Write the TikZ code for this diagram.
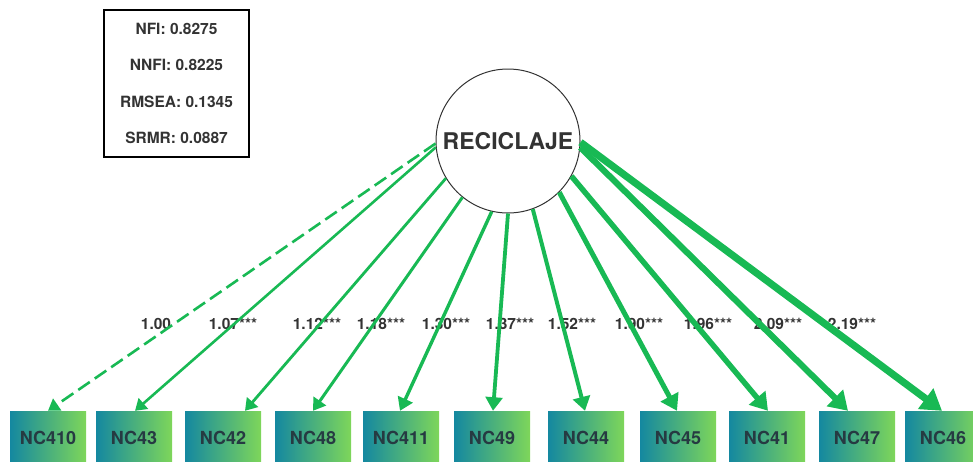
\documentclass[tikz,border=0pt]{standalone}
\usepackage{fontspec}
\setmainfont{TeX Gyre Heros}
\usetikzlibrary{arrows.meta,calc}
\definecolor{pathgreen}{RGB}{24,185,84}
\definecolor{inktext}{RGB}{51,51,51}
\definecolor{boxink}{RGB}{38,58,66}
\definecolor{boxleft}{RGB}{20,136,160}
\definecolor{boxright}{RGB}{126,214,90}
\begin{document}
\begin{tikzpicture}[x=1pt,y=-1pt,
  indicator/.style={minimum width=76pt, minimum height=54pt, inner sep=0pt,
    left color=boxleft, right color=boxright, text=boxink,
    font=\fontsize{18}{20}\selectfont\bfseries},
  loading/.style={draw=pathgreen, line width=#1,
    -{Triangle[length=6pt 2,width=8pt 2.3]}},
  coef/.style={text=inktext, font=\fontsize{15.5}{17}\selectfont\bfseries, inner sep=0pt}
]
\useasboundingbox (0,0) rectangle (973,461);
\clip (0,0) rectangle (973,461);

% fit indices
\node[draw=black, line width=1.5pt, minimum width=145pt, minimum height=147pt,
  align=center, text=inktext, inner sep=0pt,
  font=\fontsize{15.5}{36.5}\selectfont\bfseries] (fit) at (176.5,83.5)
  {NFI: 0.8275\\NNFI: 0.8225\\RMSEA: 0.1345\\SRMR: 0.0887};

% latent factor
\node[circle, draw=inktext, line width=1pt, fill=white, minimum size=144pt,
  inner sep=0pt, text=inktext, font=\fontsize{23}{26}\selectfont\bfseries]
  (R) at (508,141) {RECICLAJE};

% observed indicators
\node[indicator] (b1)  at (48,438)  {NC410};
\node[indicator] (b2)  at (134,438) {NC43};
\node[indicator] (b3)  at (223,438) {NC42};
\node[indicator] (b4)  at (313,438) {NC48};
\node[indicator] (b5)  at (401,438) {NC411};
\node[indicator] (b6)  at (492,438) {NC49};
\node[indicator] (b7)  at (586,438) {NC44};
\node[indicator] (b8)  at (678,438) {NC45};
\node[indicator] (b9)  at (767,438) {NC41};
\node[indicator] (b10) at (857,438) {NC47};
\node[indicator] (b11) at (943,438) {NC46};

% loadings
\node[coef] (l1)  at (156,324) {1.00};
\node[coef] (l2)  at (233,324) {1.07***};
\node[coef] (l3)  at (317,324) {1.12***};
\node[coef] (l4)  at (381,324) {1.18***};
\node[coef] (l5)  at (446,324) {1.30***};
\node[coef] (l6)  at (510,324) {1.37***};
\node[coef] (l7)  at (572,324) {1.52***};
\node[coef] (l8)  at (639,324) {1.90***};
\node[coef] (l9)  at (708,324) {1.96***};
\node[coef] (l10) at (778,324) {2.09***};
\node[coef] (l11) at (852,324) {2.19***};

% paths from the factor to its indicators
\draw[loading=2.6pt, dash pattern=on 14pt off 6pt] (R.182) -- (b1.north);
\draw[loading=2.6pt] (R.185) -- ($(b2.north)+(1,0)$);
\draw[loading=2.8pt] (R.211) -- ($(b3.north)+(22,0)$);
\draw[loading=3.0pt] (R.231) -- (b4.north);
\draw[loading=3.4pt] (R.257) -- ($(b5.north)+(-1,0)$);
\draw[loading=3.8pt] (R.270) -- ($(b6.north)+(1,0)$);
\draw[loading=4.0pt] (R.290) -- ($(b7.north)+(-1,0)$);
\draw[loading=5.0pt] (R.315) -- ($(b8.north)+(-1,0)$);
\draw[loading=5.5pt] (R.331) -- ($(b9.north)+(1,0)$);
\draw[loading=6.2pt] (R.355) -- ($(b10.north)+(-9,0)$);
\draw[loading=7.2pt] (R.359) -- ($(b11.north)+(-1,0)$);
\end{tikzpicture}
\end{document}
